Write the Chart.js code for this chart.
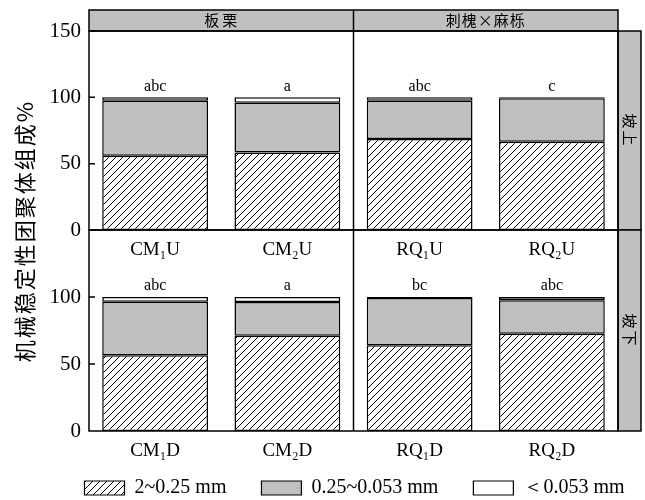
<!DOCTYPE html>
<html>
<head>
<meta charset="utf-8">
<script src="https://cdn.jsdelivr.net/npm/chart.js@4"></script>
<style>
  html, body { margin: 0; padding: 0; background: #fff; }
  #wrap { position: relative; width: 645px; height: 500px; overflow: hidden; }
  #wrap canvas { position: absolute; left: 0; top: 0; }
</style>
</head>
<body>
<div id="wrap">
  <canvas id="upper" width="670" height="508"></canvas>
  <canvas id="lower" width="645" height="500"></canvas>
</div>
<script>
// 分面名称
const forestNames = ['板栗', '刺槐×麻栎'];
const slopeNames = ['坡上', '坡下'];
const seriesNames = ['2~0.25 mm', '0.25~0.053 mm', '＜0.053 mm'];
const yTitle = '机械稳定性团聚体组成%';
const yTicks = [0, 50, 100, 150];

// 坡上
const upperLabels = ['CM₁U', 'CM₂U', 'RQ₁U', 'RQ₂U'];
const upperCoarse = [56, 58.5, 68.5, 66.5];
const upperMid = [41.5, 37.5, 29, 32.8];
const upperFine = [2.5, 4, 2.5, 0.7];
const upperLetters = ['abc', 'a', 'abc', 'c'];

// 坡下
const lowerLabels = ['CM₁D', 'CM₂D', 'RQ₁D', 'RQ₂D'];
const lowerCoarse = [56.5, 71, 64, 72.5];
const lowerMid = [40, 25.3, 35.2, 25];
const lowerFine = [3.5, 3.7, 0.8, 2.5];
const lowerLetters = ['abc', 'a', 'bc', 'abc'];

const GRAY = '#c0c0c0';
const SERIF = "'Liberation Serif', 'Times New Roman', serif";
const CJK = "'Noto Sans CJK SC', sans-serif";
const STRIP_W = 23;

// 斜线填充
function createHatch() {
    const c = document.createElement('canvas');
    c.width = 7;
    c.height = 7;
    const g = c.getContext('2d');
    g.fillStyle = '#fff';
    g.fillRect(0, 0, 7, 7);
    g.strokeStyle = '#000';
    g.lineWidth = 1;
    g.beginPath();
    g.moveTo(0, 7); g.lineTo(7, 0);
    g.moveTo(-1, 1); g.lineTo(1, -1);
    g.moveTo(6, 8); g.lineTo(8, 6);
    g.stroke();
    return g.createPattern(c, 'repeat');
}
const hatch = createHatch();
const fills = [hatch, GRAY, '#ffffff'];

function buildDatasets(coarse, mid, fine) {
    return [coarse, mid, fine].map(function (d, i) {
        return {
            label: seriesNames[i],
            data: d,
            backgroundColor: fills[i],
            borderColor: '#000',
            borderWidth: 1.5,
            borderSkipped: false,
            barPercentage: 0.8,
            categoryPercentage: 1
        };
    });
}

// 边框、分面条、显著性字母
function panelPlugin(letters, slope, isUpper) {
    return {
        id: 'panel',
        afterDraw(chart) {
            const ctx = chart.ctx;
            const { left, right, top, bottom } = chart.chartArea;
            const xs = chart.scales.x;
            const ys = chart.scales.y;
            const mid = (xs.getPixelForValue(1) + xs.getPixelForValue(2)) / 2;
            const stripTop = 10;

            ctx.save();
            ctx.lineWidth = 1.5;
            ctx.strokeStyle = '#000';

            // 右侧坡位条
            ctx.fillStyle = GRAY;
            ctx.fillRect(right, top, STRIP_W, bottom - top);
            ctx.strokeRect(right, top, STRIP_W, bottom - top);

            // 顶部林分条
            if (isUpper) {
                ctx.fillStyle = GRAY;
                ctx.fillRect(left, stripTop, right - left, top - stripTop);
                ctx.strokeRect(left, stripTop, right - left, top - stripTop);
                ctx.fillStyle = '#000';
                ctx.font = '15px ' + CJK;
                ctx.textAlign = 'center';
                ctx.textBaseline = 'middle';
                ctx.letterSpacing = '3px';
                ctx.fillText(forestNames[0], (left + mid) / 2 + 1, (stripTop + top) / 2);
                ctx.letterSpacing = '1px';
                ctx.fillText(forestNames[1], (mid + right) / 2, (stripTop + top) / 2);
                ctx.letterSpacing = '0px';
            }

            ctx.strokeRect(left, top, right - left, bottom - top);
            ctx.beginPath();
            ctx.moveTo(mid, isUpper ? stripTop : top);
            ctx.lineTo(mid, bottom);
            ctx.stroke();

            // 内向刻度
            ctx.beginPath();
            yTicks.forEach(function (v) {
                if (v === 0) return;
                const y = ys.getPixelForValue(v);
                ctx.moveTo(left, y);
                ctx.lineTo(left + 6, y);
            });
            ctx.stroke();

            // 坡位文字
            ctx.save();
            ctx.translate(right + STRIP_W / 2, (top + bottom) / 2);
            ctx.rotate(Math.PI / 2);
            ctx.fillStyle = '#000';
            ctx.font = '15px ' + CJK;
            ctx.textAlign = 'center';
            ctx.textBaseline = 'middle';
            ctx.letterSpacing = '2px';
            ctx.fillText(slope, 0, 0);
            ctx.restore();

            // 显著性字母
            ctx.fillStyle = '#000';
            ctx.font = '16px ' + SERIF;
            ctx.textAlign = 'center';
            ctx.textBaseline = 'middle';
            letters.forEach(function (t, i) {
                let total = 0;
                chart.data.datasets.forEach(function (ds) { total += ds.data[i]; });
                ctx.fillText(t, xs.getPixelForValue(i), ys.getPixelForValue(total) - 11);
            });

            // 纵轴标题
            if (!isUpper) {
                ctx.save();
                ctx.translate(25, 231);
                ctx.rotate(-Math.PI / 2);
                ctx.font = '22px ' + CJK;
                ctx.textAlign = 'center';
                ctx.textBaseline = 'middle';
                ctx.letterSpacing = '2px';
                ctx.fillText(yTitle, 0, 0);
                ctx.restore();
            }
            ctx.restore();
        }
    };
}

function createPanel(id, labels, coarse, mid, fine, letters, slope, isUpper) {
    const canvas = document.getElementById(id);
    const scales = {
        x: {
            stacked: true,
            grid: { display: false, drawTicks: false },
            border: { display: false },
            ticks: {
                color: '#000',
                padding: 9,
                font: { family: SERIF, size: 19 }
            },
            // 上排的横轴一直延伸到图例上方
            afterFit: function (scale) { scale.height = isUpper ? 213 : 69; }
        },
        y: {
            stacked: true,
            min: 0,
            max: 150,
            grid: { display: false, drawTicks: false },
            border: { display: false },
            ticks: {
                stepSize: 50,
                color: '#000',
                padding: 8,
                font: { family: SERIF, size: 21 },
                callback: function (v) {
                    if (!isUpper && v === 150) return '';
                    return v;
                }
            },
            afterFit: function (scale) { scale.width = isUpper ? 50 : 89; }
        }
    };
    // 上排用一个空的右轴留出坡位条，图例可以更宽
    if (isUpper) {
        scales.y2 = {
            position: 'right',
            grid: { display: false, drawTicks: false },
            border: { display: false },
            ticks: { display: false },
            afterFit: function (scale) { scale.width = 52; }
        };
    }
    return new Chart(canvas, {
        type: 'bar',
        data: {
            labels: labels,
            datasets: buildDatasets(coarse, mid, fine)
        },
        options: {
            responsive: false,
            animation: false,
            devicePixelRatio: 1,
            layout: {
                padding: isUpper
                    ? { top: 31, right: 0, bottom: 0, left: 39 }
                    : { top: 230, right: 27, bottom: 0, left: 0 }
            },
            scales: scales,
            plugins: {
                tooltip: { enabled: false },
                legend: {
                    display: isUpper,
                    position: 'bottom',
                    labels: {
                        color: '#000',
                        boxWidth: 40,
                        boxHeight: 14,
                        padding: 35,
                        font: { family: SERIF, size: 20 },
                        generateLabels: function () {
                            return seriesNames.map(function (name, i) {
                                return {
                                    text: name,
                                    fillStyle: fills[i],
                                    strokeStyle: '#000',
                                    lineWidth: 1.2,
                                    datasetIndex: i
                                };
                            });
                        }
                    }
                }
            }
        },
        plugins: [panelPlugin(letters, slope, isUpper)]
    });
}

createPanel('upper', upperLabels, upperCoarse, upperMid, upperFine, upperLetters, slopeNames[0], true);
createPanel('lower', lowerLabels, lowerCoarse, lowerMid, lowerFine, lowerLetters, slopeNames[1], false);
</script>
</body>
</html>
